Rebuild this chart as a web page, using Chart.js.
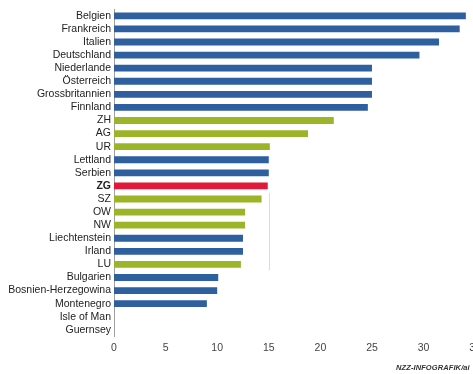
<!DOCTYPE html>
<html>
<head>
<meta charset="utf-8">
<script src="https://cdn.jsdelivr.net/npm/chart.js@4/dist/chart.umd.min.js"></script>
<style>
  html, body { margin: 0; padding: 0; overflow: hidden; background: #ffffff; width: 473px; height: 374px; }
  #wrap { position: absolute; left: 0; top: 0; width: 486px; height: 374px; }
  #credit { position: absolute; left: 396px; top: 363px; font: italic bold 7.5px 'Liberation Sans', 'DejaVu Sans Condensed', sans-serif; color: #333; white-space: nowrap; letter-spacing: 0.1px; }
</style>
</head>
<body>
<div id="wrap"><canvas id="c"></canvas></div>
<div id="credit">NZZ-INFOGRAFIK/ai</div>
<script>
const categories = ["Belgien","Frankreich","Italien","Deutschland","Niederlande","Österreich","Grossbritannien","Finnland","ZH","AG","UR","Lettland","Serbien","ZG","SZ","OW","NW","Liechtenstein","Irland","LU","Bulgarien","Bosnien-Herzegowina","Montenegro","Isle of Man","Guernsey"];
const values = [34.1,33.5,31.5,29.6,25.0,25.0,25.0,24.6,21.3,18.8,15.1,15.0,15.0,14.9,14.3,12.7,12.7,12.5,12.5,12.3,10.1,10.0,9.0,0,0];
const kinds = ["land","land","land","land","land","land","land","land","kanton","kanton","kanton","land","land","zg","kanton","kanton","kanton","land","land","kanton","land","land","land","land","land"];
const tickValues = [0,5,10,15,20,25,30,35];
const kindColors = { land: "#2e5f9f", kanton: "#9cb428", zg: "#e2183a" };
const refValue = 15;

const FONT = "'Liberation Sans Narrow', 'Liberation Sans', 'DejaVu Sans Condensed', sans-serif";

const refLine = {
  id: 'refLine',
  beforeDatasetsDraw(chart) {
    const x = chart.scales.x.getPixelForValue(refValue);
    const y = chart.scales.y;
    const y0 = y.getPixelForValue(14) - 6;
    const y1 = y.getPixelForValue(19) + 6;
    const ctx = chart.ctx;
    ctx.save();
    ctx.strokeStyle = '#dcdcdc';
    ctx.lineWidth = 1;
    ctx.beginPath();
    ctx.moveTo(Math.round(x) + 0.5, y0);
    ctx.lineTo(Math.round(x) + 0.5, y1);
    ctx.stroke();
    ctx.restore();
  }
};

new Chart(document.getElementById('c'), {
  type: 'bar',
  data: {
    labels: categories,
    datasets: [{
      data: values,
      backgroundColor: kinds.map(k => kindColors[k]),
      borderWidth: 0,
      categoryPercentage: 1.0,
      barPercentage: 0.52
    }]
  },
  options: {
    indexAxis: 'y',
    responsive: true,
    maintainAspectRatio: false,
    animation: false,
    layout: { padding: { top: 8, bottom: 15, left: 0, right: 0 } },
    plugins: { legend: { display: false }, tooltip: { enabled: false } },
    scales: {
      x: {
        type: 'linear',
        min: 0, max: 35,
        afterBuildTicks(scale) { scale.ticks = tickValues.map(v => ({ value: v })); },
        grid: { display: false, drawTicks: false },
        border: { display: false },
        ticks: { padding: 5, color: '#444', font: { family: FONT, size: 10.5 }, maxRotation: 0 }
      },
      y: {
        afterFit(scale) { scale.width = 114; },
        grid: { display: false, drawTicks: false },
        border: { display: true, color: '#a0a0a0', width: 1 },
        ticks: {
          padding: 3,
          color: '#222',
          autoSkip: false,
          font: (ctx) => ({ family: FONT, size: 10.5, weight: categories[ctx.index] === 'ZG' ? 'bold' : 'normal' })
        }
      }
    }
  },
  plugins: [refLine]
});
</script>
</body>
</html>
